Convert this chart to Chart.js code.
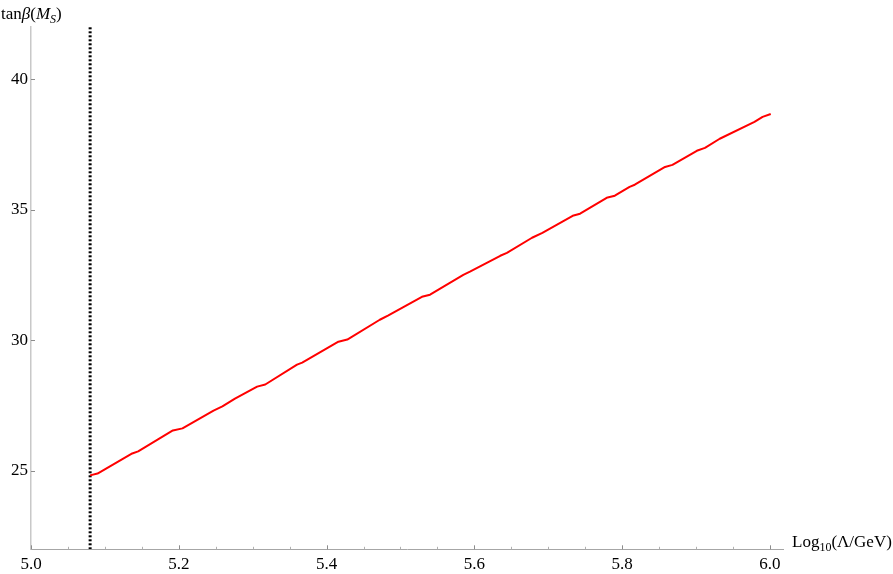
<!DOCTYPE html>
<html><head><meta charset="utf-8">
<script src="https://cdn.jsdelivr.net/npm/chart.js@4/dist/chart.umd.min.js"></script>
<style>html,body{margin:0;padding:0;background:#fff}#wrap{width:893px;height:574px;position:relative}</style>
</head><body><div id="wrap"><canvas id="c"></canvas></div>
<script>
// log10(Lambda/GeV)
const lambdaLog = [5.080,5.090,5.137,5.145,5.192,5.205,5.247,5.259,5.276,5.306,5.317,5.360,5.367,5.416,5.428,5.472,5.483,5.529,5.540,5.585,5.594,5.635,5.644,5.678,5.692,5.733,5.743,5.779,5.790,5.810,5.817,5.858,5.868,5.901,5.912,5.932,5.979,5.990,6.001];
// tan beta (M_S)
const tanBeta = [24.83,24.90,25.67,25.75,26.55,26.63,27.31,27.47,27.77,28.23,28.31,29.07,29.15,29.95,30.03,30.79,30.95,31.67,31.75,32.51,32.63,33.24,33.35,33.93,34.12,34.77,34.85,35.46,35.54,35.88,35.96,36.64,36.72,37.26,37.37,37.72,38.37,38.56,38.67];
const cutoffX = 5.08;
const cutoffYRange = [22, 42];
const xTickValues = [5.0,5.2,5.4,5.6,5.8,6.0];
const xMinorValues = [5.05,5.1,5.15,5.25,5.3,5.35,5.45,5.5,5.55,5.65,5.7,5.75,5.85,5.9,5.95];
const yTickValues = [25,30,35,40];

const FONT = "'Liberation Serif', 'DejaVu Serif', serif";
Chart.defaults.font.family = FONT;

const curve = lambdaLog.map((x,i)=>({x:x,y:tanBeta[i]}));
const cutoff = cutoffYRange.map(y=>({x:cutoffX,y:y}));

const decor = {
  id:'decor',
  afterDraw(chart){
    const ctx = chart.ctx, xs = chart.scales.x, ys = chart.scales.y;
    const a = chart.chartArea;
    ctx.save();
    ctx.strokeStyle = '#8c8c8c'; ctx.lineWidth = 1;
    xTickValues.forEach(v=>{const p=Math.round(xs.getPixelForValue(v))+0.5;ctx.beginPath();ctx.moveTo(p,a.bottom);ctx.lineTo(p,a.bottom-4);ctx.stroke();});
    ctx.strokeStyle = '#b0b0b0';
    xMinorValues.forEach(v=>{const p=Math.round(xs.getPixelForValue(v))+0.5;ctx.beginPath();ctx.moveTo(p,a.bottom);ctx.lineTo(p,a.bottom-2.5);ctx.stroke();});
    ctx.strokeStyle = '#8c8c8c';
    yTickValues.forEach(v=>{const p=Math.round(ys.getPixelForValue(v))+0.5;ctx.beginPath();ctx.moveTo(a.left,p);ctx.lineTo(a.left+4,p);ctx.stroke();});
    // titles
    ctx.fillStyle = '#000'; ctx.textBaseline = 'alphabetic'; ctx.textAlign='left';
    const parts = (list, x0, base) => {
      let x = x0;
      list.forEach(([t, size, italic, dy])=>{
        ctx.font = (italic?'italic ':'') + size + 'px ' + FONT;
        ctx.fillText(t, x, base + dy);
        x += ctx.measureText(t).width;
      });
    };
    parts([['tan',17,false,0],['\u03B2',17,true,0],['(',17,false,0],['M',17,true,0],['S',12,true,4],[')',17,false,0]], 1, 19);
    parts([['Log',17,false,0],['10',12,false,4],['(\u039B/GeV)',17,false,0]], a.right + 9, 547);
    ctx.restore();
  }
};

new Chart(document.getElementById('c'), {
  type:'scatter',
  data:{datasets:[
    {data:curve, showLine:true, borderColor:'#ff0000', borderWidth:2, pointRadius:0, tension:0, borderJoinStyle:'round', order:1},
    {data:cutoff, showLine:true, borderColor:'#000000', borderWidth:3, borderDash:[2,2], pointRadius:0, order:2}
  ]},
  options:{
    responsive:true, maintainAspectRatio:false, animation:false, devicePixelRatio:1,
    layout:{padding:{top:27,right:110,left:0,bottom:0}},
    plugins:{legend:{display:false}, tooltip:{enabled:false}},
    scales:{
      x:{type:'linear', min:5.0, max:6.0176,
        afterFit(s){s.height=24.7;},
        afterBuildTicks(s){s.ticks = xTickValues.map(v=>({value:v}));},
        grid:{display:false, drawTicks:false},
        border:{display:true, color:'#a6a6a6', width:1},
        ticks:{color:'#000', font:{family:FONT, size:17}, padding:5, maxRotation:0, autoSkip:false, callback:v=>Number(v).toFixed(1)}
      },
      y:{type:'linear', min:22, max:42,
        afterFit(s){s.width=31;},
        afterBuildTicks(s){s.ticks = yTickValues.map(v=>({value:v}));},
        grid:{display:false, drawTicks:false},
        border:{display:true, color:'#c8c8c8', width:1.5},
        ticks:{color:'#000', font:{family:FONT, size:17}, padding:3, autoSkip:false, callback:v=>String(v)}
      }
    }
  },
  plugins:[decor]
});
</script></body></html>
